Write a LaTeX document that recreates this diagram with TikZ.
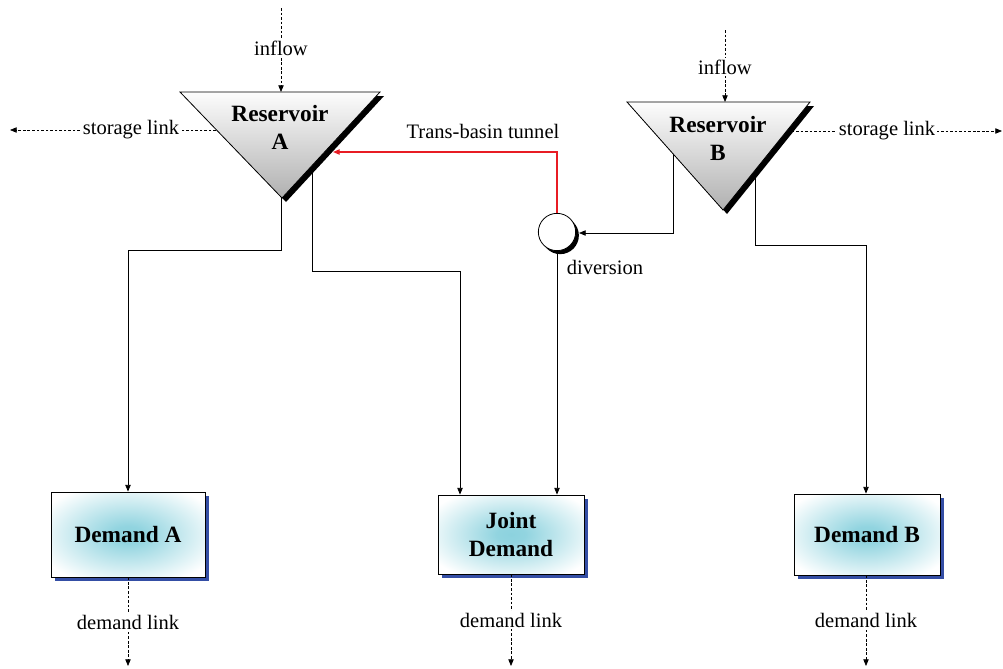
\documentclass[tikz,border=0pt]{standalone}
\usepackage{fontspec}
\setmainfont{Liberation Serif}
\usetikzlibrary{arrows.meta,shadows,calc}
\definecolor{boxglow}{RGB}{140,210,222}
\definecolor{boxshadow}{RGB}{52,78,165}
\definecolor{tunnelred}{RGB}{232,28,36}
\pgfdeclareradialshading{demandglow}{\pgfpoint{0bp}{0bp}}{color(0bp)=(boxglow); color(5bp)=(boxglow!95!white); color(31bp)=(white); color(50bp)=(white)}

\begin{document}
\begin{tikzpicture}[x=0.75pt,y=-0.75pt,
  lbl/.style={font=\fontsize{15.4}{17}\selectfont, fill=white, inner sep=1pt},
  title/.style={font=\fontsize{17.5}{21}\selectfont\bfseries, align=center},
  flow/.style={draw=black, line width=0.6pt, -{Triangle[length=5pt,width=4pt]}},
  link/.style={flow, dash pattern=on 2pt off 1.4pt},
  tunnel/.style={flow, draw=tunnelred, line width=0.9pt, -{Triangle[length=5pt,width=4pt,fill=tunnelred]}},
  reservoir/.style={draw=black, line width=0.6pt, top color=gray!2, bottom color=gray!62},
  demandbox/.style={draw=black, line width=0.6pt, shading=demandglow, inner sep=0pt, title,
    general shadow={fill=boxshadow, shadow xshift=3pt, shadow yshift=-3pt}},
  junction/.style={circle, draw=black, fill=white, line width=0.6pt, minimum size=28pt, inner sep=0pt,
    general shadow={fill=black, shadow xshift=2.4pt, shadow yshift=-2.6pt}},
]
\useasboundingbox (0,0) rectangle (1003,668);

% ---- anchor points on the reservoirs and free link ends
\coordinate (aTL) at (180,92);  \coordinate (aTR) at (380,92);  \coordinate (aBot) at (282,198);
\coordinate (bTL) at (627,102); \coordinate (bTR) at (810,102); \coordinate (bBot) at (723,210);
\coordinate (inA) at (281,8);     \coordinate (inAend) at (281,92);
\coordinate (inB) at (725,30);    \coordinate (inBend) at (725,102);
\coordinate (stA) at (216,130);   \coordinate (stAend) at (10,130);
\coordinate (stB) at (787,131);   \coordinate (stBend) at (1002,131);
\coordinate (aOut1) at (281,198); \coordinate (aOut2) at (312,166);
\coordinate (bOut1) at (673,154); \coordinate (bOut2) at (755,170);
\coordinate (tunA) at (333,152);

% ---- demand nodes and diversion
\node[demandbox, minimum width=115.5pt, minimum height=63.75pt] (dA) at (128,534.5) {Demand A};
\node[demandbox, minimum width=109.5pt, minimum height=59.25pt] (dJ) at (511,534.5) {Joint\\Demand};
\node[demandbox, minimum width=109.5pt, minimum height=60.75pt] (dB) at (867,534.5) {Demand B};

% ---- connectors (drawn before the reservoirs so they start beneath them)
\draw[flow] (aOut1) -- (281,250) -| (dA.north);
\draw[flow] (aOut2) |- (460,271) -- (460,0 |- dJ.north);
\draw[flow] (bOut2) |- (866,245) -- (866,0 |- dB.north);

% ---- reservoirs with their offset shadows
\fill[black] ($(aTL)+(4,4)$) -- ($(aTR)+(4,4)$) -- ($(aBot)+(4,4)$) -- cycle;
\path[reservoir] (aTL) -- (aTR) -- (aBot) -- cycle;
\fill[black] ($(bTL)+(4,4)$) -- ($(bTR)+(4,4)$) -- ($(bBot)+(4,4)$) -- cycle;
\path[reservoir] (bTL) -- (bTR) -- (bBot) -- cycle;
\node[title] (resA) at (280,127) {Reservoir\\A};
\node[title] (resB) at (718,138) {Reservoir\\B};

\draw[flow] (bOut1) -- (673,233) -- (579,233);
\node[junction] (div) at (557,232) {};
\draw[flow] (div.south) -- (div.south |- dJ.north);
\draw[tunnel] (div.north) |- (tunA);
\node[font=\fontsize{15.4}{17}\selectfont, inner sep=0pt] (tunLbl) at (483,131) {Trans-basin tunnel};
\node[font=\fontsize{15.4}{17}\selectfont, inner sep=0pt] (divLbl) at (605,267) {diversion};

% ---- inflow, storage and demand links
\draw[link] (inA) -- (inAend);
\node[lbl] (inLblA) at (281,48) {inflow};
\draw[link] (inB) -- (inBend);
\node[lbl] (inLblB) at (725,67) {inflow};
\draw[link] (stA) -- (stAend);
\node[lbl] (stLblA) at (131,130) {storage link};
\draw[link] (stB) -- (stBend);
\node[lbl] (stLblB) at (887,131) {storage link};

\coordinate (dlA) at (128,666);
\coordinate (dlJ) at (511,666);
\coordinate (dlB) at (866,666);
\draw[link] (dA.south) -- (dlA);
\node[lbl] (dlLblA) at (128,622) {demand link};
\draw[link] (dJ.south) -- (dlJ);
\node[lbl] (dlLblJ) at (511,620) {demand link};
\draw[link] (dB.south -| dlB) -- (dlB);
\node[lbl] (dlLblB) at (866,620) {demand link};
\end{tikzpicture}
\end{document}
